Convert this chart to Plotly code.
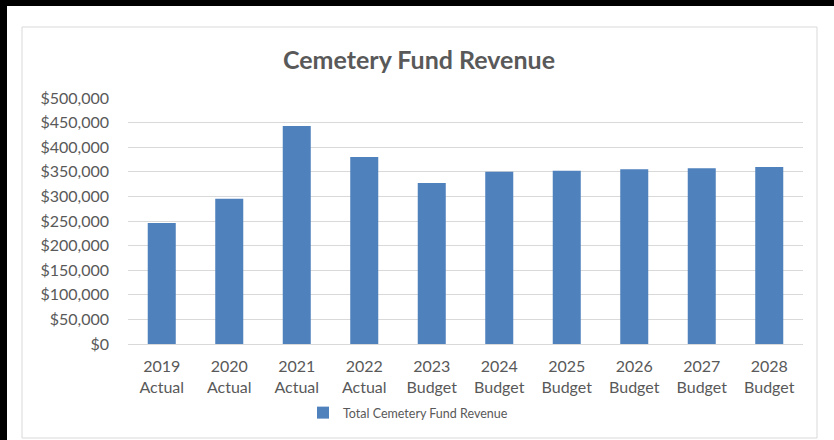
import plotly.graph_objects as go

categories = ["2019<br>Actual", "2020<br>Actual", "2021<br>Actual", "2022<br>Actual", "2023<br>Budget",
              "2024<br>Budget", "2025<br>Budget", "2026<br>Budget", "2027<br>Budget", "2028<br>Budget"]
revenue = [246000, 295000, 443000, 380000, 327000, 350000, 352000, 355000, 357000, 360000]
y_ticks = [0, 50000, 100000, 150000, 200000, 250000, 300000, 350000, 400000, 450000, 500000]
y_tick_text = ["$0", "$50,000", "$100,000", "$150,000", "$200,000", "$250,000", "$300,000",
               "$350,000", "$400,000", "$450,000", "$500,000"]

W, H = 834, 440
L, R, T, B = 128, 803, 98, 344

def px(x):
    return (x - L) / (R - L)

def py(y):
    return (B - y) / (B - T)

font_family = "Lato, 'Open Sans', sans-serif"

fig = go.Figure()
fig.add_trace(go.Bar(
    x=categories, y=revenue, name="Total Cemetery Fund Revenue",
    marker=dict(color="#4f81bd", line=dict(width=0)),
))

shapes = [
    dict(type="rect", xref="paper", yref="paper", x0=px(22), x1=px(817), y0=py(438), y1=py(27),
         line=dict(color="#d9d9d9", width=1), fillcolor="rgba(0,0,0,0)", layer="below"),
    dict(type="rect", xref="paper", yref="paper", x0=px(-2), x1=px(7), y0=py(442), y1=py(-2),
         line=dict(width=0), fillcolor="black", layer="above"),
    dict(type="rect", xref="paper", yref="paper", x0=px(-2), x1=px(836), y0=py(6), y1=py(-2),
         line=dict(width=0), fillcolor="black", layer="above"),
]

fig.update_layout(
    width=W, height=H,
    margin=dict(l=L, r=W - R, t=T, b=H - B),
    paper_bgcolor="white", plot_bgcolor="white",
    font=dict(family=font_family, color="#595959", size=16),
    title=dict(text="<b>Cemetery Fund Revenue</b>", x=419 / W, xref="container", xanchor="center",
               y=1 - 60 / H, yref="container", yanchor="middle",
               font=dict(size=25, color="#595959", family=font_family)),
    bargap=0.585,
    showlegend=True,
    legend=dict(orientation="h", x=px(408), xref="paper", xanchor="center", y=py(413), yanchor="middle",
                font=dict(size=12.5, color="#595959"), itemwidth=30),
    shapes=shapes,
)
fig.update_yaxes(range=[0, 500000], tickvals=y_ticks, ticktext=y_tick_text,
                 showgrid=True, gridcolor="#d9d9d9", gridwidth=1, zeroline=False,
                 showline=False, ticks="", ticklabelstandoff=18,
                 tickfont=dict(size=16, color="#595959"))
fig.update_xaxes(showgrid=False, showline=True, linecolor="#d9d9d9", linewidth=1, ticks="",
                 ticklabelstandoff=8,
                 tickfont=dict(size=16, color="#595959"))

fig.write_html("out.html", config={"displayModeBar": False},
               post_script="document.body.style.margin='0';")
